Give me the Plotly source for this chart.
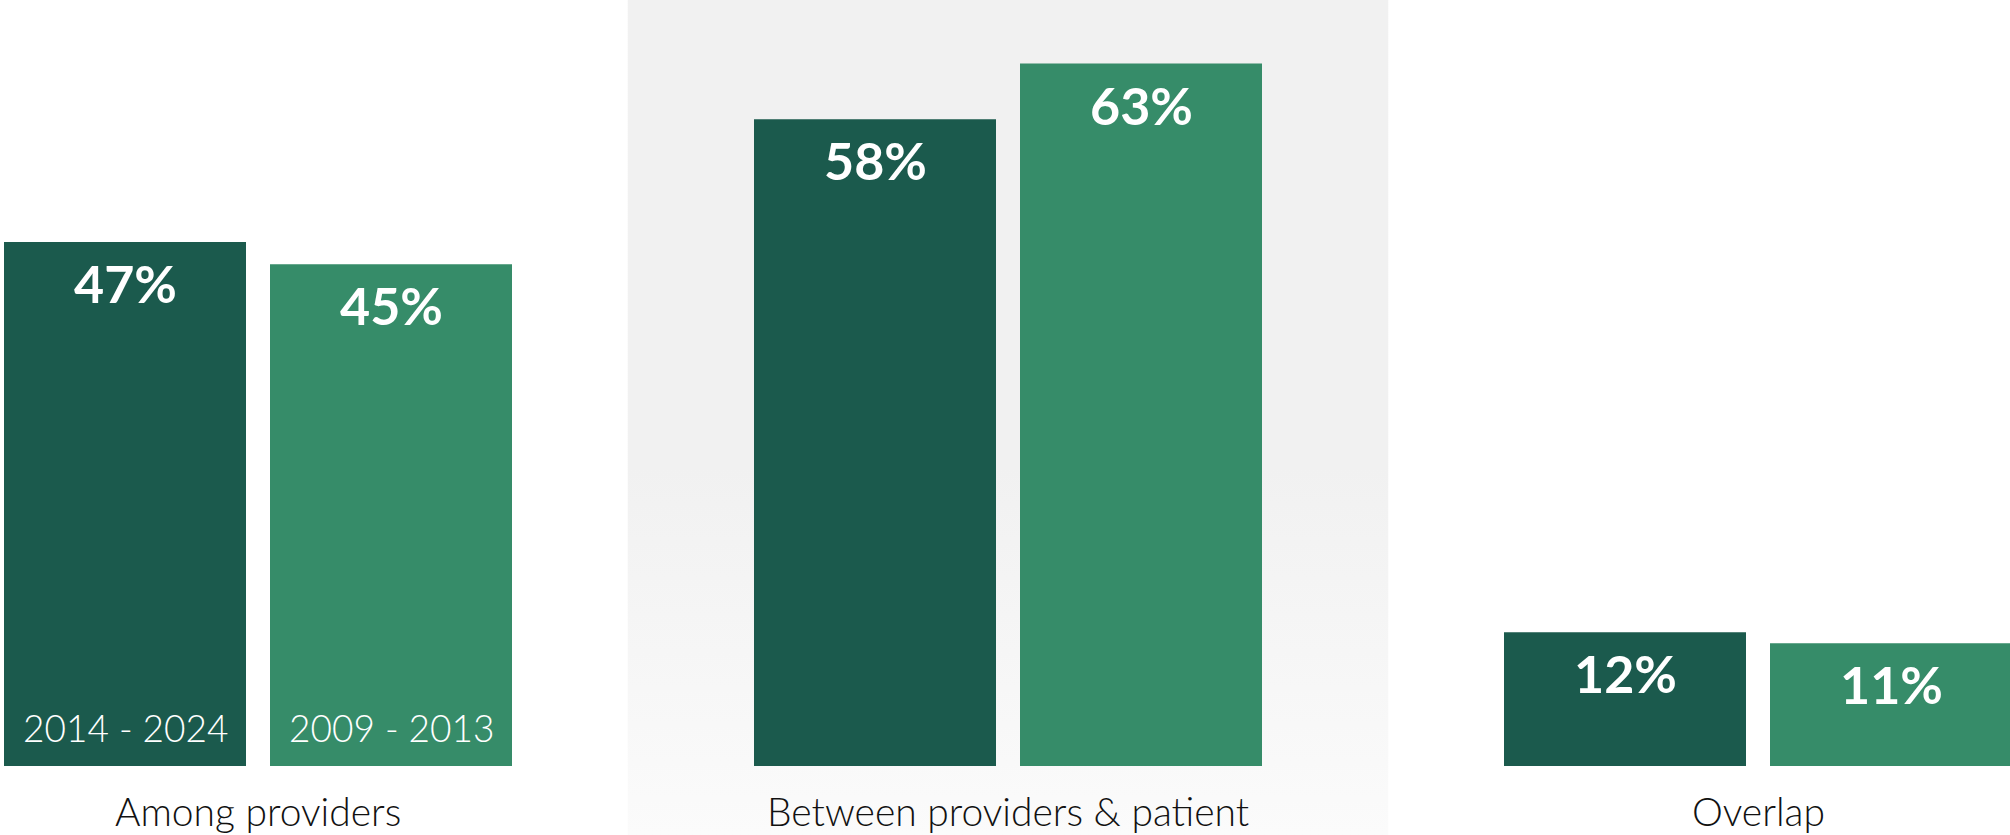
import plotly.graph_objects as go

# ---- data ----
categories = ["Among providers", "Between providers & patient", "Overlap"]
series_names = ["2014 - 2024", "2009 - 2013"]
values_recent = [47, 58, 12]
values_early = [45, 63, 11]

# ---- style ----
W, H = 2010, 835
COL_DARK = "#1b5a4d"
COL_LIGHT = "#368c69"
PX_PER_CAT = 750.0
PX_PER_UNIT = 11.15
X0_PX = 258.0        # pixel of category 0 centre
Y0_PX = 766.0        # pixel of value 0
BAR_W = 242 / PX_PER_CAT
OFFSETS = [-254 / PX_PER_CAT, 12 / PX_PER_CAT]
FONT = "Lato"

x_range = [-X0_PX / PX_PER_CAT, (W - X0_PX) / PX_PER_CAT]
y_range = [-(H - Y0_PX) / PX_PER_UNIT, Y0_PX / PX_PER_UNIT]
xs = list(range(len(categories)))

fig = go.Figure()

# highlighted background panel behind the middle category (vertical gradient), base axes
half = 0.507
fig.add_trace(go.Scatter(
    x=[1 - half, 1 + half, 1 + half, 1 - half, 1 - half],
    y=[y_range[0], y_range[0], y_range[1], y_range[1], y_range[0]],
    xaxis="x", yaxis="y",
    mode="lines", line=dict(width=0), fill="toself",
    fillgradient=dict(type="vertical",
                      colorscale=[[0, "#fbfbfb"], [0.44, "#f1f1f1"], [1, "#f1f1f1"]]),
    hoverinfo="skip", showlegend=False,
))

# bars on overlaid axes so they sit above the panel
for vals, name, col, off in [(values_recent, series_names[0], COL_DARK, OFFSETS[0]),
                             (values_early, series_names[1], COL_LIGHT, OFFSETS[1])]:
    fig.add_trace(go.Bar(
        x=xs, y=vals, name=name, marker=dict(color=col, line=dict(width=0)),
        width=BAR_W, offset=off, showlegend=False, xaxis="x2", yaxis="y2",
    ))

annotations = []
for vals, off in [(values_recent, OFFSETS[0]), (values_early, OFFSETS[1])]:
    for xi, v in zip(xs, vals):
        annotations.append(dict(
            x=xi + off + BAR_W / 2, y=v, xref="x2", yref="y2",
            text=f"<b>{v}%</b>", showarrow=False, yanchor="middle", yshift=-41,
            font=dict(family=FONT, size=52, color="white"),
        ))

# series labels inside the first group
for name, off in zip(series_names, OFFSETS):
    annotations.append(dict(
        x=0 + off + BAR_W / 2, y=0, xref="x2", yref="y2",
        text=name, showarrow=False, yanchor="middle", yshift=39,
        font=dict(family=FONT, size=37, color="white", weight=300),
    ))

# category labels
for xi, cat in zip(xs, categories):
    annotations.append(dict(
        x=xi, y=0, xref="x2", yref="y2", text=cat, showarrow=False,
        yanchor="middle", yshift=-45,
        font=dict(family=FONT, size=39, color="#111111", weight=300),
    ))

axis_common = dict(visible=False, fixedrange=True)
fig.update_layout(
    width=W, height=H,
    margin=dict(l=0, r=0, t=0, b=0),
    paper_bgcolor="white", plot_bgcolor="white",
    barmode="overlay",
    xaxis=dict(range=x_range, **axis_common),
    yaxis=dict(range=y_range, **axis_common),
    xaxis2=dict(range=x_range, overlaying="x", **axis_common),
    yaxis2=dict(range=y_range, overlaying="y", **axis_common),
    annotations=annotations,
    showlegend=False,
)

fig.write_html("out.html", config={"displayModeBar": False})
